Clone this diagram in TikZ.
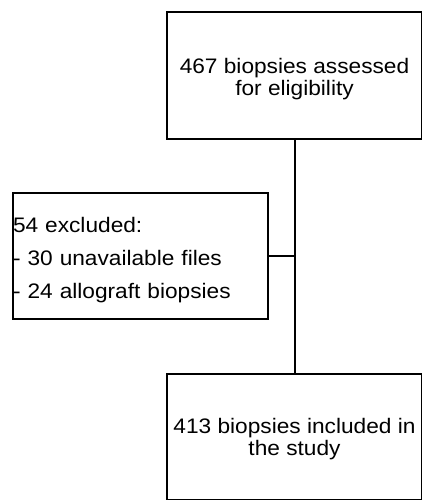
\documentclass[tikz,border=0pt]{standalone}
\usepackage{fontspec}
\newfontfamily\labfont[FakeStretch=1.08]{Liberation Sans}
\newcommand\topstrut[1]{\rule{0pt}{#1}}
\begin{document}
\begin{tikzpicture}[x=1pt,y=-1pt,
  box/.style={draw=black, line width=2.5pt, inner sep=0pt, minimum width=255pt,
    font=\labfont\fontsize{21}{22}\selectfont},
  link/.style={draw=black, line width=2.5pt}]
\useasboundingbox (0,0) rectangle (422,500);
\node[box, minimum height=127pt, align=center] (ntop) at (294.5,75.5)
  {\topstrut{21.5pt}467 biopsies assessed\\for eligibility};
\node[box, minimum height=126pt, text width=255pt, align=left,
  font=\labfont\fontsize{21}{33}\selectfont] (nexcl) at (140.5,256)
  {\topstrut{23.5pt}54 excluded:\\- 30 unavailable files\\- 24 allograft biopsies};
\node[box, minimum height=126pt, align=center] (nbot) at (294.5,437)
  {\topstrut{19.5pt}413 biopsies included in\\the study};
\coordinate (j) at (295,256);
\draw[link] (ntop.south -| j) -- (nbot.north -| j);
\draw[link] (nexcl.east) -- (j);
\end{tikzpicture}
\end{document}
